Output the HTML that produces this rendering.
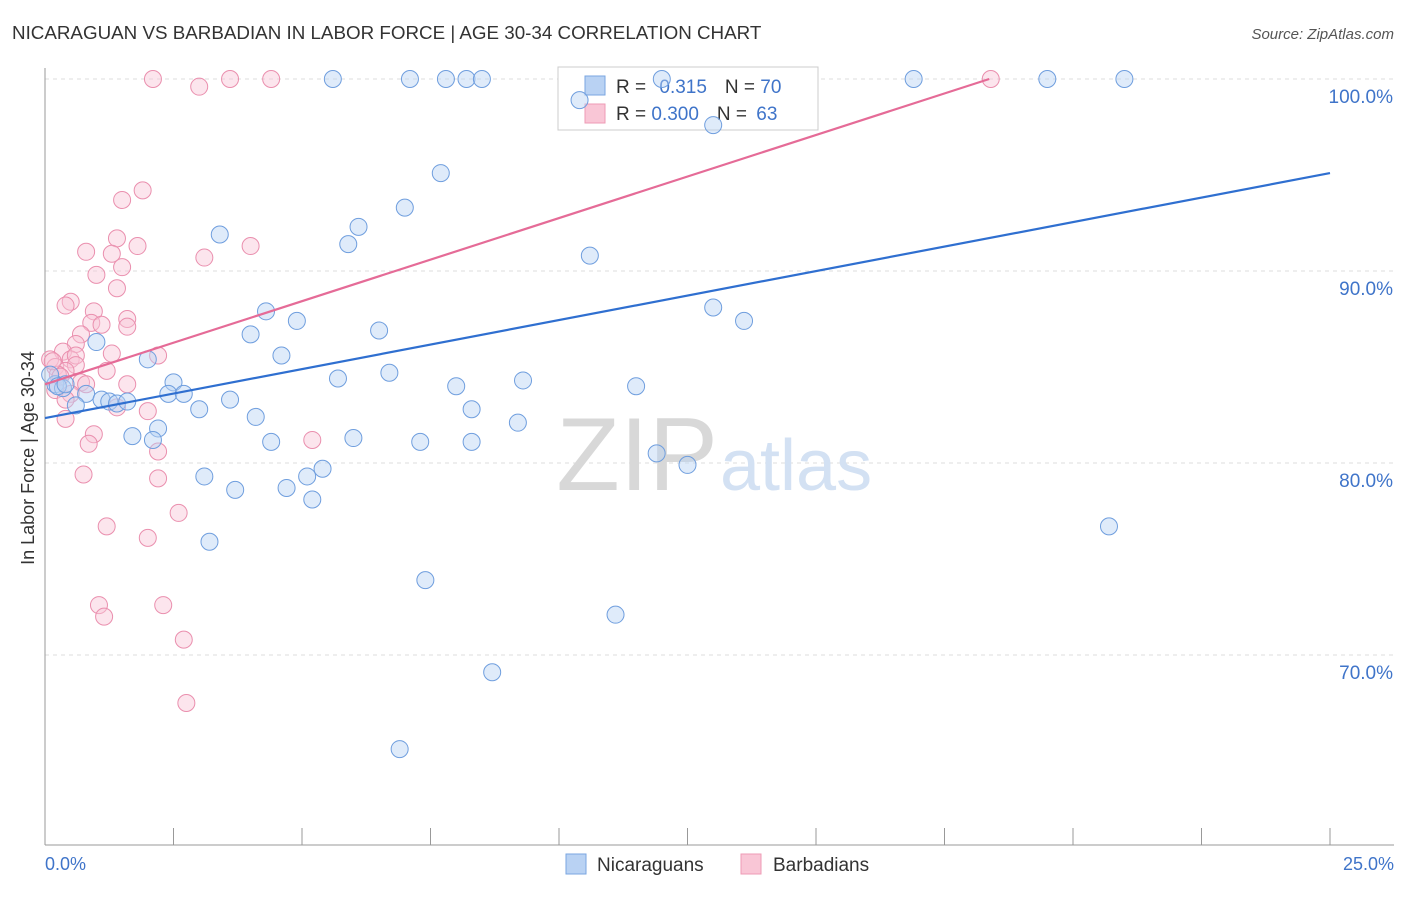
<!DOCTYPE html>
<html><head><meta charset="utf-8"><style>
body{margin:0;background:#fff;font-family:"Liberation Sans",sans-serif;}
svg text{font-family:"Liberation Sans",sans-serif;}
</style></head><body>
<svg id="chart" width="1406" height="892">
<text x="12" y="39" font-size="18.8" fill="#333">NICARAGUAN VS BARBADIAN IN LABOR FORCE | AGE 30-34 CORRELATION CHART</text>
<text x="1394" y="39" font-size="15" fill="#555" font-style="italic" text-anchor="end">Source: ZipAtlas.com</text>
<g id="grid"></g>
<text x="718" y="490" font-size="104" fill="#d8d8d8" text-anchor="end" font-family="Liberation Serif">ZIP</text>
<text x="720" y="490" font-size="72" fill="#d3e1f3">atlas</text>
<g id="axes"></g>
<text transform="translate(34,458) rotate(-90)" font-size="18" fill="#333" text-anchor="middle">In Labor Force | Age 30-34</text>
<g>
<rect x="558" y="67" width="260" height="63" fill="#fff" stroke="#ccc"/>
<rect x="585" y="76" width="20" height="19" fill="#b9d2f3" stroke="#7aa6e0"/>
<rect x="585" y="104" width="20" height="19" fill="#f9c6d6" stroke="#ee9bb5"/>
<text x="616" y="93" font-size="19" fill="#333">R = <tspan fill="#3f74c9" dx="8">0.315</tspan><tspan dx="18" fill="#333">N = </tspan><tspan fill="#3f74c9">70</tspan></text>
<text x="616" y="120" font-size="19" fill="#333">R = <tspan fill="#3f74c9">0.300</tspan><tspan dx="18" fill="#333">N = </tspan><tspan fill="#3f74c9" dx="4">63</tspan></text>
</g>
<g id="marks"></g>
<g>
<rect x="566" y="854" width="20" height="20" fill="#b9d2f3" stroke="#7aa6e0"/>
<text x="597" y="871" font-size="19" fill="#333">Nicaraguans</text>
<rect x="741" y="854" width="20" height="20" fill="#f9c6d6" stroke="#ee9bb5"/>
<text x="773" y="871" font-size="19" fill="#333">Barbadians</text>
</g>
</svg>
<script>
const blueX=[5.6,7.1,7.8,8.2,8.5,16.9,19.5,21.0,12.0,10.4,13.0,7.7,7.0,6.1,5.9,3.4,10.6,4.3,4.9,4.0,6.5,13.0,13.6,1.0,2.0,4.6,5.7,6.7,9.3,8.0,11.5,2.5,2.4,2.7,3.6,3.0,4.1,8.3,9.2,0.2,0.35,0.8,0.6,1.1,1.25,1.4,1.6,2.2,1.7,2.1,4.4,6.0,7.3,8.3,11.9,12.5,5.1,5.4,3.1,3.7,4.7,5.2,3.2,20.7,7.4,11.1,8.7,6.9,0.1,0.25,0.4];
const blueY=[100,100,100,100,100,100,100,100,100,98.9,97.6,95.1,93.3,92.3,91.4,91.9,90.8,87.9,87.4,86.7,86.9,88.1,87.4,86.3,85.4,85.6,84.4,84.7,84.3,84.0,84.0,84.2,83.6,83.6,83.3,82.8,82.4,82.8,82.1,84.1,83.9,83.6,83.0,83.3,83.2,83.1,83.2,81.8,81.4,81.2,81.1,81.3,81.1,81.1,80.5,79.9,79.3,79.7,79.3,78.6,78.7,78.1,75.9,76.7,73.9,72.1,69.1,65.1,84.6,84.0,84.1];
const pinkX=[2.1,3.0,3.6,4.4,18.4,1.9,1.5,1.4,1.8,4.0,0.8,3.1,1.3,1.5,1.0,1.4,0.5,0.4,0.95,0.9,1.1,1.6,1.6,0.7,0.6,0.35,1.3,2.2,0.5,0.1,0.2,0.6,0.6,0.4,0.25,1.2,0.7,0.8,1.6,0.2,0.5,1.4,2.0,0.4,0.95,0.85,2.2,5.2,0.75,2.2,2.6,1.2,2.0,1.05,2.3,1.15,2.7,2.75,0.15,0.3,0.4];
const pinkY=[100,99.6,100,100,100,94.2,93.7,91.7,91.3,91.3,91.0,90.7,90.9,90.2,89.8,89.1,88.4,88.2,87.9,87.3,87.2,87.5,87.1,86.7,86.2,85.8,85.7,85.6,85.4,85.4,85.0,85.6,85.1,84.8,84.6,84.8,84.2,84.1,84.1,83.8,83.6,82.9,82.7,82.3,81.5,81.0,80.6,81.2,79.4,79.2,77.4,76.7,76.1,72.6,72.6,72.0,70.8,67.5,85.3,84.5,83.3];
const blueLine=[[0,82.34],[25,95.1]];
const pinkLine=[[0,84.1],[18.37,100]];
const yTicks=[100,90,80,70];
const yTickLabels=["100.0%","90.0%","80.0%","70.0%"];
const xEndLabels=["0.0%","25.0%"];
const sx=v=>45+v*51.4, sy=v=>79+(100-v)*19.2;
const NS="http://www.w3.org/2000/svg";
function mk(t,a,p){const e=document.createElementNS(NS,t);for(const k in a)e.setAttribute(k,a[k]);p.appendChild(e);return e;}
const grid=document.getElementById('grid'),axes=document.getElementById('axes'),marks=document.getElementById('marks');
yTicks.forEach((t,i)=>{const l=mk('line',{x1:45,x2:1394,y1:sy(t),y2:sy(t),stroke:'#ddd','stroke-dasharray':'4,4'},grid);


const tx=mk('text',{x:1393,y:sy(t)+24,'font-size':19,fill:'#3f74c9','text-anchor':'end'},axes);tx.textContent=yTickLabels[i];

});
mk('line',{x1:45,x2:45,y1:68,y2:845,stroke:'#999'},axes);
mk('line',{x1:45,x2:1394,y1:845,y2:845,stroke:'#999'},axes);
for(let i=0;i<=10;i++){const t=mk('line',{x1:sx(i*2.5),x2:sx(i*2.5),y1:828,y2:845,stroke:'#999'},axes);

}
const xl0=mk('text',{x:45,y:870,'font-size':18,fill:'#3f74c9'},axes);xl0.textContent=xEndLabels[0];


const xl1=mk('text',{x:1394,y:870,'font-size':18,fill:'#3f74c9','text-anchor':'end'},axes);xl1.textContent=xEndLabels[1];


function pts(X,Y,fill,stroke,name){X.forEach((x,i)=>{const c=mk('circle',{cx:sx(x),cy:sy(Y[i]),r:8.5,fill:fill,'fill-opacity':0.45,stroke:stroke,'stroke-width':1},marks);

});}
pts(pinkX,pinkY,'#f9c6d6','#ea8fae','barbadian-point');
pts(blueX,blueY,'#b9d2f3','#6f9ede','nicaraguan-point');
const bl=mk('line',{x1:sx(blueLine[0][0]),y1:sy(blueLine[0][1]),x2:sx(blueLine[1][0]),y2:sy(blueLine[1][1]),stroke:'#2f6fd0','stroke-width':2.2},marks);


const pl=mk('line',{x1:sx(pinkLine[0][0]),y1:sy(pinkLine[0][1]),x2:sx(pinkLine[1][0]),y2:sy(pinkLine[1][1]),stroke:'#e56b97','stroke-width':2.2},marks);


</script>
</body></html>
